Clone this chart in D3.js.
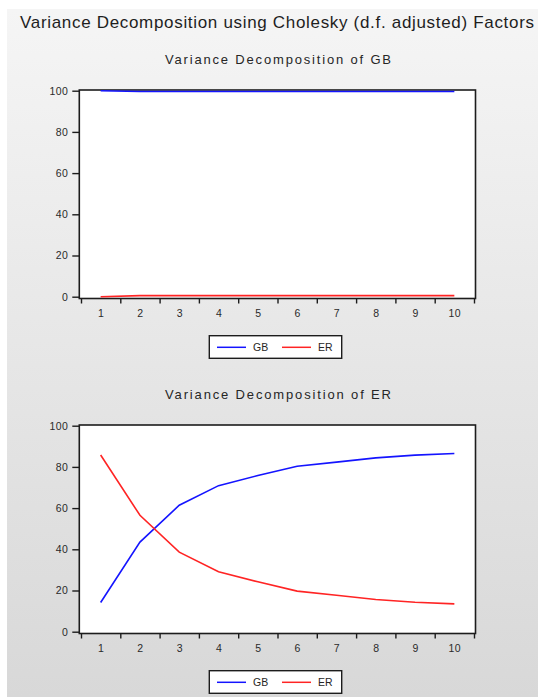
<!DOCTYPE html>
<html>
<head>
<meta http-equiv="Content-Type" content="text/html;charset=utf-8"/>
<script src="https://d3js.org/d3.v7.min.js"></script>
<style type="text/css">
body { margin: 0; background: #fff; }
text { font-family: "Liberation Sans", Arial, sans-serif; fill: #262626; }
.frame { fill: #fff; stroke: #1c1c1c; stroke-width: 1.6; }
.axis path { display: none; }
.axis line { stroke: #1c1c1c; stroke-width: 1.4; }
.axis text { font-size: 10.5px; letter-spacing: 0.4px; fill: #2a2a2a; }
.series { fill: none; stroke-width: 1.6; }
.legend rect { fill: #fff; stroke: #1c1c1c; stroke-width: 1.4; }
.legend text { font-size: 10.5px; }
</style>
</head>
<body>
<script>
// chart data
var periods = [1, 2, 3, 4, 5, 6, 7, 8, 9, 10];
var seriesNames = ["GB", "ER"];
var seriesColors = ["#1414ff", "#ff2424"];
var yTicks = [0, 20, 40, 60, 80, 100];

var gbOfGB = [100, 99.6, 99.6, 99.6, 99.6, 99.6, 99.6, 99.6, 99.6, 99.6];
var erOfGB = [0, 0.5, 0.5, 0.5, 0.5, 0.5, 0.5, 0.5, 0.5, 0.5];
var gbOfER = [14.2, 43.5, 61.4, 70.9, 75.8, 80.3, 82.3, 84.4, 85.7, 86.5];
var erOfER = [85.8, 56.5, 38.6, 29.1, 24.2, 19.7, 17.7, 15.6, 14.3, 13.5];

var mainTitle = "Variance Decomposition using Cholesky (d.f. adjusted) Factors";
var panelTitles = ["Variance Decomposition of GB", "Variance Decomposition of ER"];
var panelData = [[gbOfGB, erOfGB], [gbOfER, erOfER]];

var width = 538,
    height = 697,
    panelGap = 335;

var svg = d3.select("body")
            .append("svg")
            .attr("width", width)
            .attr("height", height);

// background gradient
var grad = svg.append("defs")
              .append("linearGradient")
              .attr("id", "bg")
              .attr("x1", 0).attr("y1", 0)
              .attr("x2", 0).attr("y2", 1);
grad.append("stop").attr("offset", "0%").attr("stop-color", "#f5f5f5");
grad.append("stop").attr("offset", "100%").attr("stop-color", "#d8d8d8");

svg.append("rect")
   .attr("x", 7).attr("y", 9)
   .attr("width", width - 7).attr("height", height - 9)
   .attr("fill", "url(#bg)");

svg.append("text")
   .attr("x", 20)
   .attr("y", 28.3)
   .attr("textLength", 514)
   .attr("lengthAdjust", "spacing")
   .style("font-size", "17px")
   .style("fill", "#1e1e1e")
   .text(mainTitle);

// x scale: periods centred in equal bands, ticks on band boundaries
var x = d3.scaleLinear()
          .domain([0.5, 10.5])
          .range([81, 474]);
var boundaries = d3.range(0.5, 11, 1);

panelData.forEach(function(series, p) {
    var off = p * panelGap;
    var g = svg.append("g").attr("transform", "translate(0," + off + ")");

    var y = d3.scaleLinear()
              .domain([0, 100])
              .range([296.7, 90.7]);

    g.append("text")
     .attr("x", 165)
     .attr("y", 64)
     .attr("textLength", 226)
     .attr("lengthAdjust", "spacing")
     .style("font-size", "13px")
     .text(panelTitles[p]);

    g.append("rect")
     .attr("class", "frame")
     .attr("x", 79.3)
     .attr("y", 90)
     .attr("width", 475.5 - 79.3)
     .attr("height", 298.5 - 90);

    // y axis
    g.append("g")
     .attr("class", "axis")
     .attr("transform", "translate(79.3,0)")
     .call(d3.axisLeft(y).tickValues(yTicks).tickSize(7).tickPadding(4));

    // x axis ticks on boundaries
    g.append("g")
     .attr("class", "axis")
     .attr("transform", "translate(0,298.5)")
     .call(d3.axisBottom(x).tickValues(boundaries).tickSize(5).tickFormat(""));

    // x labels
    g.append("g")
     .attr("class", "axis")
     .attr("transform", "translate(0,298.5)")
     .call(d3.axisBottom(x).tickValues(periods).tickSize(0).tickPadding(11).tickFormat(d3.format("d")));

    var line = d3.line()
                 .x(function(d, i) { return x(periods[i]); })
                 .y(function(d) { return y(d); });

    series.forEach(function(vals, s) {
        g.append("path")
         .datum(vals)
         .attr("class", "series")
         .attr("stroke", seriesColors[s])
         .attr("d", line);
    });

    // legend
    var leg = g.append("g").attr("class", "legend");
    leg.append("rect")
       .attr("x", 209.3).attr("y", 335.7)
       .attr("width", 132.4).attr("height", 22.6);
    var items = leg.selectAll(".item")
                   .data(seriesNames)
                   .enter()
                   .append("g")
                   .attr("class", "item")
                   .attr("transform", function(d, i) { return "translate(" + (217 + i * 65) + ",0)"; });
    items.append("line")
         .attr("x1", 0).attr("x2", 29)
         .attr("y1", 347.3).attr("y2", 347.3)
         .attr("stroke", function(d, i) { return seriesColors[i]; })
         .attr("stroke-width", 1.5);
    items.append("text")
         .attr("x", 36)
         .attr("y", 350.5)
         .text(function(d) { return d; });
});
</script>
</body>
</html>
